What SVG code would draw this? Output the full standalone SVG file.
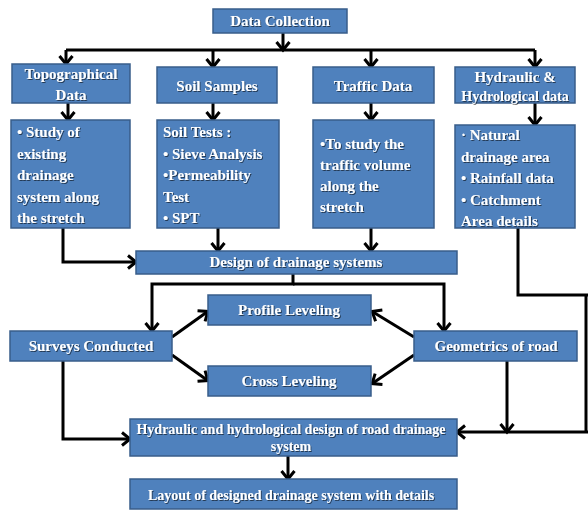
<svg xmlns="http://www.w3.org/2000/svg" width="588" height="510" viewBox="0 0 588 510">
<style>
.box{fill:#4F81BD;stroke:#385D8A;stroke-width:1.5}
.t{font-family:"Liberation Serif","Times New Roman",serif;font-weight:bold;fill:#fff;font-size:15px;filter:url(#sh)}
.c{text-anchor:middle}
.ln{fill:none;stroke:#000;stroke-width:3}
.ar{marker-end:url(#ah)}
</style>
<defs>
<filter id="sh" x="-5%" y="-20%" width="110%" height="140%">
<feDropShadow dx="1" dy="1" stdDeviation="0.6" flood-color="#000" flood-opacity="0.55"/>
</filter>
<marker id="ah" markerUnits="userSpaceOnUse" markerWidth="20" markerHeight="20" viewBox="-10 -10 20 20" refX="-1" refY="0" orient="auto">
<path d="M-8,-6.5 L0,0 L-8,6.5" fill="none" stroke="#000" stroke-width="3"/>
</marker>
</defs>
<rect width="588" height="510" fill="#fff"/>
<g id="connectors">
<path class="ln ar" d="M283,33 V49"/>
<path class="ln" d="M66,50 H535"/>
<path class="ln ar" d="M66,50 V63"/>
<path class="ln ar" d="M213,50 V66"/>
<path class="ln ar" d="M371,50 V66"/>
<path class="ln ar" d="M535,50 V66"/>
<path class="ln ar" d="M68,103 V119"/>
<path class="ln ar" d="M213,103 V119"/>
<path class="ln ar" d="M371,103 V119"/>
<path class="ln ar" d="M535,103 V124"/>
<path class="ln ar" d="M63,228 V262 H135"/>
<path class="ln ar" d="M218,228 V250"/>
<path class="ln ar" d="M371,228 V250"/>
<path class="ln" d="M518,228 V295 H590"/>
<path class="ln ar" d="M293,274 V284 H152 V330"/>
<path class="ln ar" d="M293,284 H444 V330"/>
<path class="ln ar" d="M172,337 L207,312"/>
<path class="ln ar" d="M172,355 L207,380"/>
<path class="ln ar" d="M414,337 L373,312"/>
<path class="ln ar" d="M414,355 L373,383"/>
<path class="ln ar" d="M63,361 V439 H129"/>
<path class="ln ar" d="M507,361 V431"/>
<path class="ln" d="M586,295 V432"/>
<path class="ln ar" d="M588,432 H458"/>
<path class="ln ar" d="M288,456 V478"/>
</g>
<g id="data-collection"><rect class="box" x="213" y="9" width="134" height="24"/><text class="t c" x="280" y="26">Data Collection</text></g>
<g id="topographical-data"><rect class="box" x="12" y="64" width="118" height="39"/><text class="t c" x="71" y="79">Topographical</text><text class="t c" x="71" y="100">Data</text></g>
<g id="soil-samples"><rect class="box" x="157" y="67" width="120" height="36"/><text class="t c" x="217" y="91">Soil Samples</text></g>
<g id="traffic-data"><rect class="box" x="313" y="67" width="121" height="36"/><text class="t c" x="373" y="91">Traffic Data</text></g>
<g id="hydraulic-hydrological-data"><rect class="box" x="455" y="67" width="120" height="36"/><text class="t c" x="515" y="82">Hydraulic &amp;</text><text class="t c" x="515" y="101" style="font-size:14px">Hydrological data</text></g>
<g id="topographical-details"><rect class="box" x="11" y="120" width="119" height="108"/>
<text class="t" x="17" y="137">• Study of</text><text class="t" x="17" y="159">existing</text><text class="t" x="17" y="180">drainage</text><text class="t" x="17" y="202">system along</text><text class="t" x="17" y="223">the stretch</text></g>
<g id="soil-tests"><rect class="box" x="157" y="120" width="122" height="108"/>
<text class="t" x="163" y="137">Soil Tests :</text><text class="t" x="163" y="159">• Sieve Analysis</text><text class="t" x="163" y="180">•Permeability</text><text class="t" x="163" y="202">Test</text><text class="t" x="163" y="223">• SPT</text></g>
<g id="traffic-details"><rect class="box" x="313" y="120" width="121" height="108"/>
<text class="t" x="320" y="149">•To study the</text><text class="t" x="320" y="170">traffic volume</text><text class="t" x="320" y="191">along the</text><text class="t" x="320" y="212">stretch</text></g>
<g id="hydraulic-details"><rect class="box" x="455" y="125" width="120" height="103"/>
<text class="t" x="461" y="140">· Natural</text><text class="t" x="461" y="162">drainage area</text><text class="t" x="461" y="183">• Rainfall data</text><text class="t" x="461" y="205">• Catchment</text><text class="t" x="461" y="226">Area details</text></g>
<g id="design-of-drainage-systems"><rect class="box" x="136" y="251" width="321" height="23"/><text class="t c" x="296" y="267">Design of drainage systems</text></g>
<g id="profile-leveling"><rect class="box" x="208" y="295" width="163" height="30"/><text class="t c" x="289" y="315">Profile Leveling</text></g>
<g id="surveys-conducted"><rect class="box" x="10" y="331" width="162" height="30"/><text class="t c" x="91" y="351">Surveys Conducted</text></g>
<g id="geometrics-of-road"><rect class="box" x="414" y="331" width="163" height="30"/><text class="t c" x="496" y="351">Geometrics of road</text></g>
<g id="cross-leveling"><rect class="box" x="208" y="366" width="163" height="30"/><text class="t c" x="289" y="386">Cross Leveling</text></g>
<g id="hydraulic-hydrological-design"><rect class="box" x="130" y="419" width="327" height="37"/><text class="t c" x="291" y="434" style="font-size:14px">Hydraulic and hydrological design of road drainage</text><text class="t c" x="291" y="451" style="font-size:14px">system</text></g>
<g id="layout"><rect class="box" x="130" y="479" width="327" height="30"/><text class="t c" x="291" y="500" style="font-size:14px">Layout of designed drainage system with details</text></g>
</svg>
